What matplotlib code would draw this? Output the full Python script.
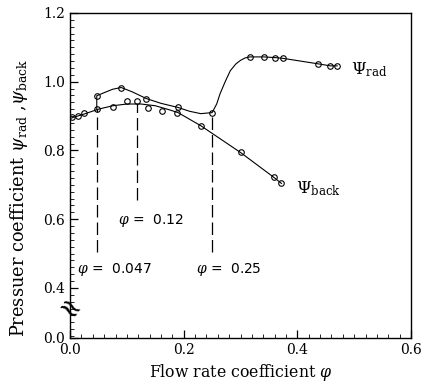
import matplotlib
matplotlib.use("Agg")
import matplotlib.pyplot as plt
from matplotlib.ticker import MultipleLocator

plt.rcParams["mathtext.fontset"] = "dejavuserif"

# marker data
rad_phi = [0.047, 0.09, 0.134, 0.19, 0.25, 0.316, 0.341, 0.361, 0.374, 0.436, 0.458, 0.47]
rad_psi = [0.959, 0.983, 0.951, 0.925, 0.91, 1.072, 1.072, 1.070, 1.068, 1.052, 1.046, 1.046]
back_phi = [0.004, 0.014, 0.025, 0.048, 0.076, 0.10, 0.117, 0.137, 0.162, 0.188, 0.23, 0.30, 0.359, 0.371]
back_psi = [0.896, 0.901, 0.908, 0.920, 0.927, 0.945, 0.945, 0.922, 0.916, 0.910, 0.872, 0.794, 0.722, 0.704]

# fitted lines as traced in the picture
rad_line_phi = [0.047, 0.047, 0.06, 0.075, 0.09, 0.11, 0.134, 0.16, 0.19, 0.21, 0.23, 0.25,
                0.258, 0.264, 0.273, 0.282, 0.292, 0.30, 0.308, 0.316, 0.341, 0.361, 0.374, 0.436, 0.458, 0.47]
rad_line_psi = [0.920, 0.959, 0.968, 0.978, 0.983, 0.970, 0.951, 0.937, 0.925, 0.914, 0.907, 0.910,
                0.935, 0.965, 1.000, 1.032, 1.052, 1.062, 1.069, 1.072, 1.072, 1.070, 1.068, 1.052, 1.046, 1.046]
back_line_phi = [0.0, 0.025, 0.05, 0.075, 0.10, 0.125, 0.15, 0.175, 0.19, 0.23, 0.30, 0.36, 0.372]
back_line_psi = [0.893, 0.906, 0.920, 0.930, 0.935, 0.935, 0.930, 0.918, 0.910, 0.872, 0.794, 0.720, 0.704]

# marked operating points: (phi, top of dashed line, bottom of dashed line)
mark_phi = [0.047, 0.117, 0.25]
mark_top = [0.920, 0.935, 0.910]
mark_bottom = [0.504, 0.655, 0.504]
mark_labels = [r"$\varphi$ =  0.047", r"$\varphi$ =  0.12", r"$\varphi$ =  0.25"]
mark_label_xy = [(0.012, 0.455), (0.085, 0.595), (0.222, 0.455)]

# broken y axis: 0.0 is drawn where 0.255 would be
y_bottom = 0.255
ytick_pos = [y_bottom, 0.4, 0.6, 0.8, 1.0, 1.2]
ytick_lab = ["0.0", "0.4", "0.6", "0.8", "1.0", "1.2"]

fig = plt.figure(figsize=(4.22, 3.91), dpi=100)
ax = fig.add_axes([0.166, 0.136, 0.808, 0.831])

ax.plot(rad_line_phi, rad_line_psi, color="black", lw=0.8)
ax.plot(back_line_phi, back_line_psi, color="black", lw=0.8)
ax.plot(rad_phi, rad_psi, "o", mfc="none", mec="black", ms=4, mew=0.8)
ax.plot(back_phi, back_psi, "o", mfc="none", mec="black", ms=4, mew=0.8)

for p, t, b in zip(mark_phi, mark_top, mark_bottom):
    ax.plot([p, p], [b, t], color="black", lw=0.9, ls=(0, (10, 4)))
for lab, (x, y) in zip(mark_labels, mark_label_xy):
    ax.text(x, y, lab, fontsize=10, family="DejaVu Sans", va="center", ha="left")

ax.text(0.495, 1.035, r"$\Psi_{\rm rad}$", fontsize=12, va="center")
ax.text(0.398, 0.69, r"$\Psi_{\rm back}$", fontsize=12, va="center")

# axis break mark
ax.text(-0.004, 0.335, "≈", fontsize=20, rotation=-35, ha="center", va="center",
        family="DejaVu Sans", clip_on=False)

ax.set_xlim(0, 0.6)
ax.set_ylim(y_bottom, 1.2)
ax.set_xticks([0.0, 0.2, 0.4, 0.6])
ax.set_xticklabels(["0.0", "0.2", "0.4", "0.6"])
ax.set_yticks(ytick_pos)
ax.set_yticklabels(ytick_lab)
ax.xaxis.set_minor_locator(MultipleLocator(0.02))
ax.set_yticks([v / 100 for v in range(26, 121, 2)], minor=True)
ax.tick_params(which="both", direction="in", labelsize=10)
ax.tick_params(which="major", length=6, width=0.9)
ax.tick_params(which="minor", length=3, width=0.6)
for lab in ax.get_xticklabels() + ax.get_yticklabels():
    lab.set_family("DejaVu Serif")
for s in ax.spines.values():
    s.set_linewidth(1.0)

ax.set_xlabel(r"Flow rate coefficient $\varphi$", family="DejaVu Serif", fontsize=11.3)
ax.set_ylabel(r"Pressuer coefficient $\psi_{\rm rad}$ ,$\psi_{\rm back}$",
              family="DejaVu Serif", fontsize=12.8)
ax.yaxis.set_label_coords(-0.118, 0.43)

fig.savefig("out.png", dpi=100)
